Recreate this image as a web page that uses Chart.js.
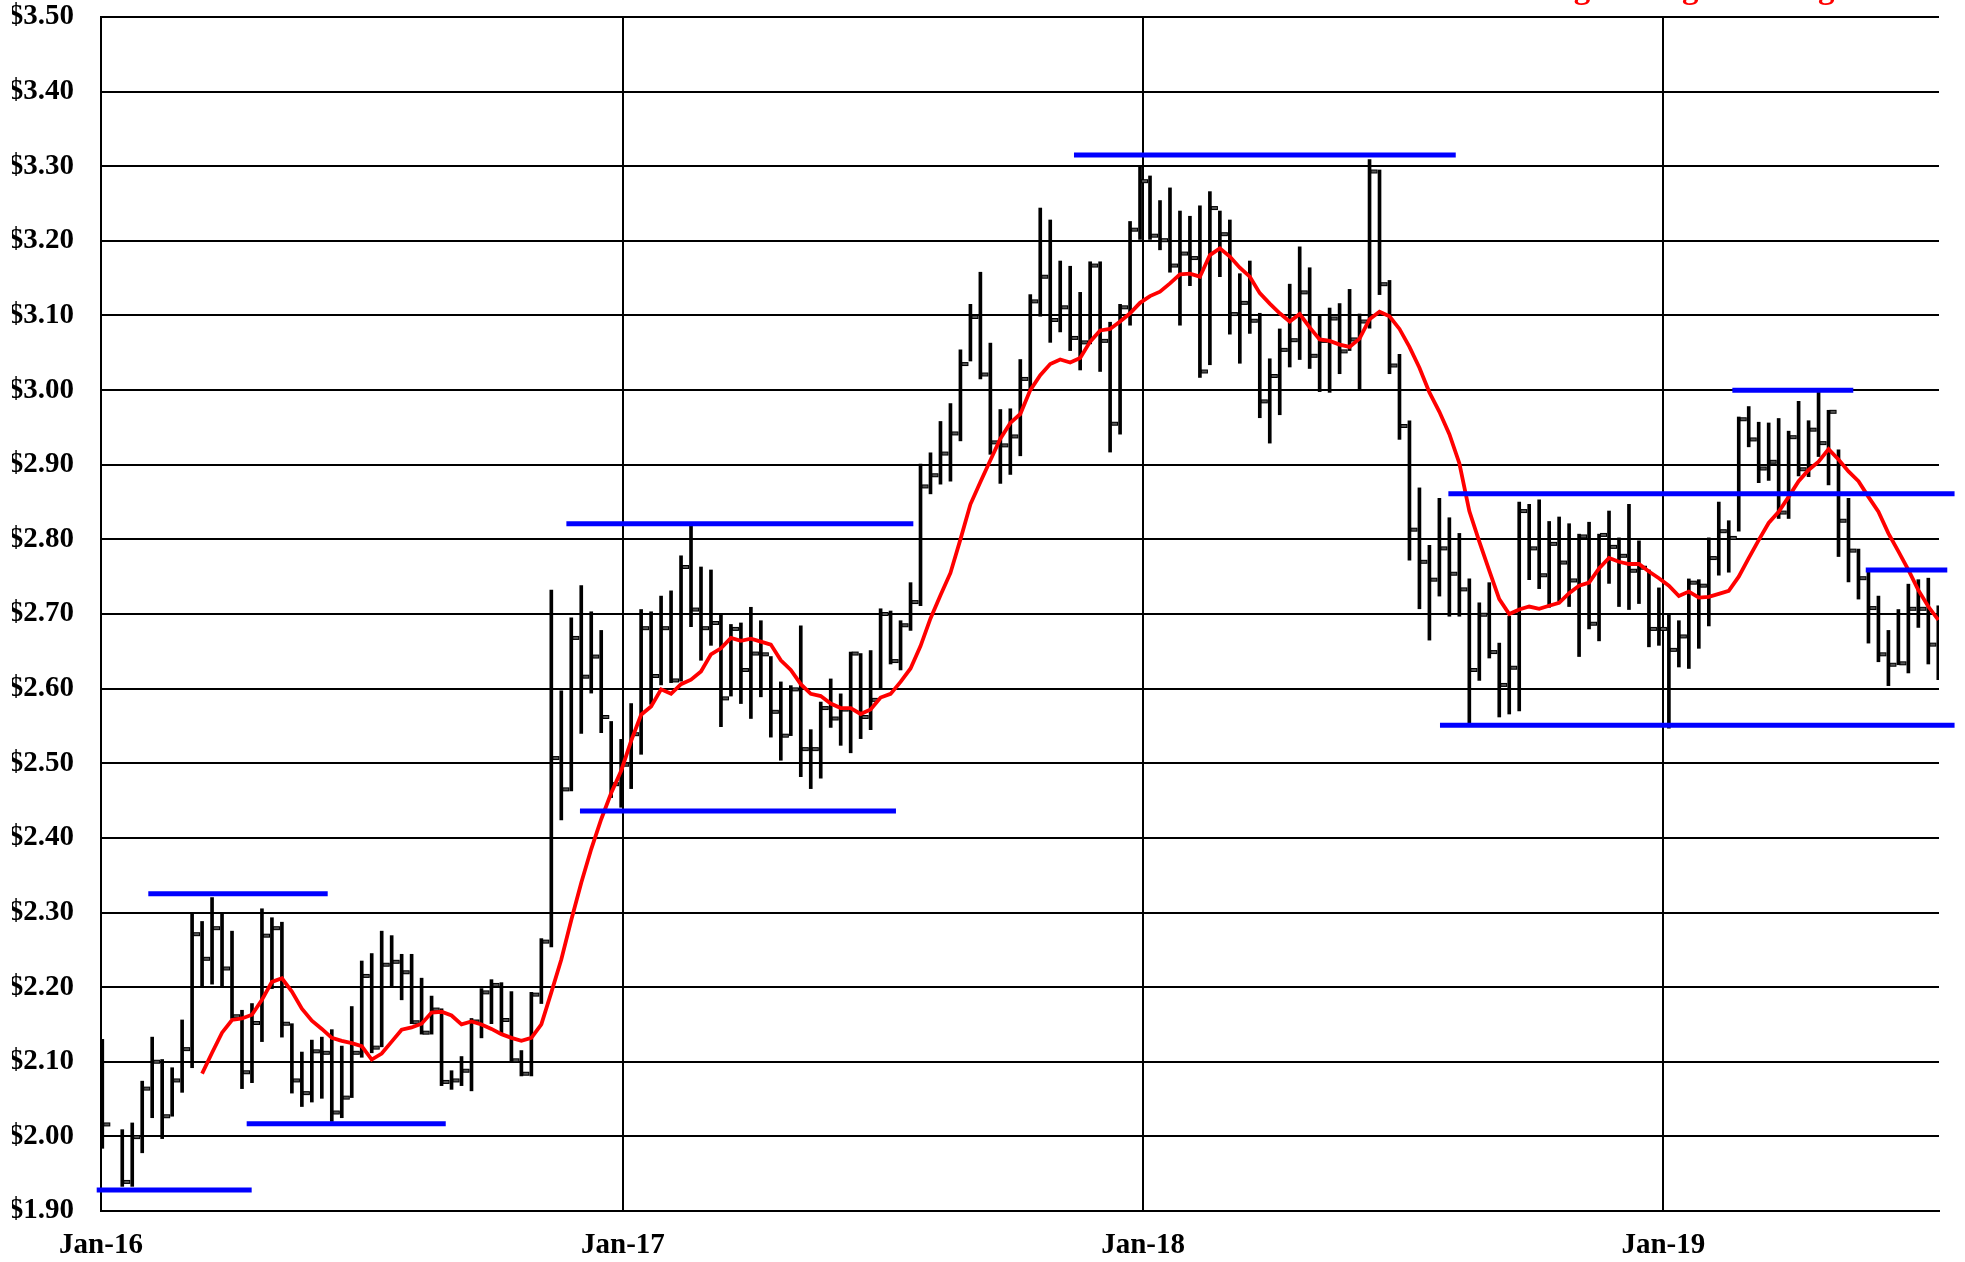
<!DOCTYPE html>
<html>
<head>
<meta charset="utf-8">
<script src="https://cdn.jsdelivr.net/npm/chart.js@4.4.1/dist/chart.umd.min.js"></script>
<style>
  html, body { margin: 0; padding: 0; background: #fff; }
  #wrap { width: 1965px; height: 1262px; position: relative; }
</style>
</head>
<body>
<div id="wrap"><canvas id="c"></canvas></div>
<script>
// ---- DATA (weekly bars, index = week number from first bar; null = no bar) ----
const highs = [
2.130,null,2.009,2.018,2.074,2.133,2.103,2.092,2.156,2.299,
2.288,2.320,2.299,2.275,2.169,2.178,2.305,2.293,2.287,2.151,
2.113,2.129,2.133,2.143,2.121,2.174,2.235,2.245,2.275,2.269,
2.244,2.244,2.212,2.188,2.171,2.088,2.107,2.158,2.198,2.210,
2.206,2.194,2.115,2.193,2.265,2.732,2.597,2.695,2.738,2.703,
2.678,2.556,2.532,2.580,2.706,2.703,2.724,2.731,2.778,2.818,
2.763,2.759,2.700,2.686,2.688,2.709,2.691,2.643,2.609,2.604,
2.684,2.545,2.582,2.613,2.593,2.649,2.647,2.651,2.707,2.704,
2.691,2.742,2.901,2.916,2.958,2.982,3.054,3.115,3.158,3.063,
2.974,2.975,3.041,3.128,3.244,3.228,3.173,3.166,3.131,3.172,
3.172,3.091,3.115,3.226,3.300,3.287,3.254,3.271,3.240,3.233,
3.247,3.266,3.240,3.228,3.156,3.173,3.103,3.042,3.082,3.142,
3.192,3.164,3.100,3.110,3.116,3.135,3.102,3.309,3.295,3.147,
3.048,2.959,2.869,2.792,2.855,2.829,2.808,2.747,2.715,2.742,
2.661,2.697,2.850,2.847,2.853,2.824,2.830,2.821,2.807,2.823,
2.807,2.838,2.802,2.847,2.798,2.759,2.735,2.700,2.691,2.747,
2.746,2.802,2.850,2.825,2.964,2.978,2.957,2.956,2.962,2.945,
2.985,2.959,2.998,2.973,2.920,2.855,2.787,2.759,2.724,2.678,
2.706,2.740,2.746,2.748,2.711];
const lows = [
1.984,null,1.933,1.933,1.978,2.025,1.997,2.027,2.059,2.092,
2.200,2.204,2.200,2.158,2.064,2.072,2.127,2.198,2.133,2.058,
2.040,2.046,2.051,2.020,2.025,2.052,2.106,2.112,2.120,2.200,
2.183,2.151,2.137,2.137,2.068,2.063,2.068,2.061,2.132,2.151,
2.139,2.100,2.081,2.081,2.178,2.254,2.424,2.463,2.540,2.594,
2.541,2.454,2.441,2.466,2.512,2.579,2.605,2.608,2.610,2.683,
2.638,2.658,2.549,2.590,2.580,2.560,2.589,2.535,2.504,2.537,
2.482,2.466,2.480,2.548,2.524,2.514,2.533,2.545,2.601,2.633,
2.625,2.678,2.711,2.861,2.874,2.878,2.932,3.039,3.015,2.914,
2.875,2.887,2.912,3.000,3.099,3.064,3.078,3.053,3.027,3.062,
3.025,2.917,2.941,3.087,3.202,3.202,3.188,3.158,3.087,3.140,
3.017,3.034,3.152,3.075,3.036,3.076,2.963,2.929,2.967,3.031,
3.041,3.029,2.998,2.997,3.022,3.053,3.001,3.083,3.128,3.022,
2.934,2.772,2.707,2.665,2.724,2.697,2.697,2.553,2.611,2.641,
2.562,2.566,2.570,2.746,2.734,2.709,2.717,2.710,2.643,2.680,
2.664,2.741,2.710,2.706,2.714,2.656,2.658,2.547,2.629,2.627,
2.654,2.684,2.752,2.756,2.811,2.924,2.876,2.879,2.828,2.828,
2.885,2.884,2.911,2.873,2.777,2.743,2.720,2.661,2.636,2.604,
2.632,2.621,2.682,2.633,2.612];
const closes = [
2.016,null,1.939,1.999,2.064,2.100,2.027,2.075,2.117,2.271,
2.238,2.279,2.225,2.161,2.086,2.152,2.269,2.279,2.151,2.075,
2.058,2.114,2.112,2.032,2.052,2.112,2.215,2.119,2.230,2.234,
2.220,2.153,2.139,2.170,2.073,2.075,2.088,2.154,2.193,2.203,
2.156,2.102,2.084,2.190,2.261,2.507,2.465,2.668,2.616,2.643,
2.562,2.472,2.498,2.539,2.681,2.617,2.681,2.611,2.763,2.706,
2.681,2.688,2.587,2.680,2.625,2.647,2.646,2.569,2.537,2.599,
2.519,2.519,2.574,2.560,2.572,2.647,2.562,2.585,2.700,2.637,
2.685,2.716,2.871,2.886,2.915,2.942,3.035,3.098,3.021,2.930,
2.926,2.938,3.015,3.119,3.152,3.094,3.111,3.070,3.064,3.167,
3.066,2.955,3.111,3.215,3.280,3.207,3.201,3.167,3.183,3.177,
3.025,3.244,3.209,3.102,3.117,3.093,2.985,3.019,3.054,3.067,
3.131,3.046,3.066,3.096,3.052,3.068,3.092,3.293,3.142,3.033,
2.952,2.813,2.770,2.746,2.788,2.754,2.733,2.625,2.699,2.649,
2.605,2.628,2.838,2.788,2.752,2.794,2.769,2.745,2.804,2.687,
2.806,2.790,2.778,2.758,2.762,2.680,2.680,2.652,2.670,2.742,
2.738,2.775,2.811,2.802,2.961,2.934,2.895,2.904,2.836,2.937,
2.894,2.947,2.929,2.971,2.825,2.785,2.748,2.708,2.646,2.632,
2.634,2.707,2.707,2.659,2.692];
// moving average line, starts at week maStart
const maStart = 10;
const movingAvg = [
2.084,2.112,2.139,2.156,2.158,2.163,2.183,2.207,2.212,2.194,
2.171,2.155,2.144,2.132,2.128,2.125,2.121,2.103,2.111,2.127,
2.143,2.146,2.151,2.166,2.167,2.162,2.150,2.154,2.150,2.144,
2.137,2.132,2.128,2.132,2.150,2.193,2.237,2.290,2.340,2.385,
2.425,2.460,2.490,2.530,2.565,2.576,2.599,2.593,2.606,2.612,
2.623,2.646,2.654,2.668,2.664,2.667,2.663,2.659,2.638,2.625,
2.606,2.593,2.590,2.580,2.574,2.574,2.566,2.572,2.588,2.593,
2.609,2.627,2.657,2.694,2.725,2.755,2.800,2.847,2.877,2.906,
2.935,2.956,2.968,3.000,3.020,3.035,3.041,3.037,3.043,3.065,
3.080,3.082,3.092,3.103,3.117,3.126,3.132,3.143,3.155,3.156,
3.152,3.181,3.190,3.179,3.164,3.152,3.130,3.116,3.103,3.092,
3.102,3.084,3.068,3.066,3.061,3.058,3.069,3.095,3.105,3.099,
3.082,3.058,3.030,2.997,2.971,2.941,2.902,2.838,2.797,2.758,
2.720,2.700,2.706,2.710,2.707,2.711,2.715,2.728,2.738,2.742,
2.761,2.775,2.770,2.767,2.767,2.757,2.748,2.738,2.724,2.730,
2.722,2.723,2.727,2.731,2.750,2.775,2.799,2.822,2.837,2.857,
2.878,2.893,2.904,2.921,2.907,2.891,2.878,2.857,2.837,2.808,
2.784,2.759,2.732,2.710,2.692];
// support / resistance levels (price, start week, end week)
const levelPrices = [1.928, 2.325, 2.017, 2.821, 2.436, 3.315, 2.861, 2.551, 3.000, 2.759];
const levelStarts = [-0.56, 4.61, 14.47, 46.51, 47.87, 97.38, 134.9, 134.06, 163.36, 176.73];
const levelEnds   = [14.97, 22.59, 34.42, 81.28, 79.54, 135.64, 185.63, 185.63, 175.48, 184.9];
// x-axis tick labels and their week positions
const yearLabels = ['Jan-16', 'Jan-17', 'Jan-18', 'Jan-19'];
const yearWeeks  = [-0.13, 52.18, 104.3, 156.44];
const titleText = 'Moving Average Trading';

// ---- build ----
const tickImg = document.createElement('canvas');
tickImg.width = 18; tickImg.height = 8;
(function () {
  const t = tickImg.getContext('2d');
  t.fillStyle = '#000'; t.fillRect(10, 2, 7, 4);
  t.fillStyle = '#555'; t.fillRect(11, 3, 5, 2);
})();

const barData = [], closeData = [], maData = [];
highs.forEach((h, i) => {
  if (h === null) return;
  barData.push({ x: i, y: [lows[i], h] });
  closeData.push({ x: i, y: closes[i] });
});
movingAvg.forEach((v, k) => maData.push({ x: maStart + k, y: v }));

const datasets = [
  { type: 'bar', data: barData, backgroundColor: '#000', borderWidth: 0, barThickness: 3, order: 5 },
  { type: 'line', data: closeData, showLine: false, pointStyle: tickImg, pointRadius: 4, order: 4 },
  { type: 'line', data: maData, borderColor: '#ff0000', borderWidth: 3.8, pointRadius: 0, tension: 0, fill: false, order: 2 }
];
levelPrices.forEach((p, k) => {
  datasets.push({ type: 'line', data: [{ x: levelStarts[k], y: p }, { x: levelEnds[k], y: p }],
    borderColor: '#0000ff', borderWidth: 5, pointRadius: 0, borderCapStyle: 'butt', clip: false, order: 1 });
});

const titlePlugin = {
  id: 'topTitle',
  afterDraw(chart) {
    const ctx = chart.ctx;
    ctx.save();
    ctx.fillStyle = '#ff0000';
    ctx.font = 'bold 33px "Liberation Serif", "Times New Roman", serif';
    ctx.textBaseline = 'alphabetic';
    ctx.textAlign = 'left';
    ctx.fillText(titleText, 1482, -2);
    ctx.restore();
  }
};

Chart.defaults.font.family = '"Liberation Serif", "Times New Roman", serif';
Chart.defaults.font.size = 29;
Chart.defaults.font.weight = 'bold';
Chart.defaults.color = '#000';

new Chart(document.getElementById('c'), {
  type: 'bar',
  data: { datasets },
  plugins: [titlePlugin],
  options: {
    responsive: true,
    maintainAspectRatio: false,
    devicePixelRatio: 1,
    animation: false,
    events: [],
    layout: { autoPadding: false, padding: { left: 12, right: 26, top: 0, bottom: 0 } },
    plugins: { legend: { display: false }, tooltip: { enabled: false } },
    scales: {
      x: {
        type: 'linear',
        min: -0.13, max: 184.07,
        offset: false,
        bounds: 'data',
        grid: { offset: false, color: '#000', lineWidth: 2, drawTicks: false },
        border: { display: true, color: '#000', width: 2 },
        afterBuildTicks: (scale) => { scale.ticks = yearWeeks.map(v => ({ value: v })); },
        afterFit: (scale) => { scale.height = 51; scale.paddingLeft = 0; scale.paddingRight = 0; },
        ticks: {
          autoSkip: false, maxRotation: 0, padding: 17,
          callback: (value, index) => yearLabels[index]
        }
      },
      y: {
        type: 'linear',
        min: 1.9, max: 3.5,
        grid: { color: '#000', lineWidth: 2, drawTicks: false },
        border: { display: true, color: '#000', width: 2 },
        afterFit: (scale) => { scale.width = 89; scale.paddingTop = 17; scale.paddingBottom = 17; },
        ticks: { stepSize: 0.1, padding: 27, callback: (v) => '$' + Number(v).toFixed(2) }
      }
    }
  }
});
</script>
</body>
</html>
